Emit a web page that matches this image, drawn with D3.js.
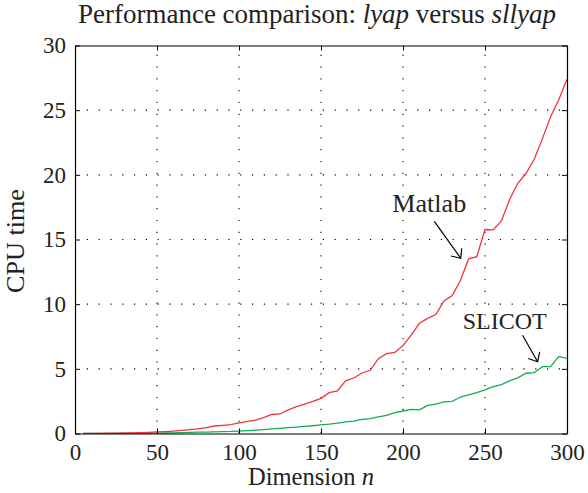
<!DOCTYPE html>
<html>
<head>
<meta charset="utf-8">
<script src="https://cdn.jsdelivr.net/npm/d3@7"></script>
<style>
  html, body { margin: 0; padding: 0; background: #fff; }
  svg { display: block; }
</style>
</head>
<body>
<svg id="chart" width="588" height="493"></svg>
<script>
// ---- data ----
const dimensions = d3.range(5, 301, 5);
const matlab = [
  0.005, 0.01, 0.015, 0.02, 0.03, 0.04, 0.05, 0.07, 0.09, 0.12,
  0.15, 0.19, 0.24, 0.30, 0.35, 0.45, 0.58, 0.63, 0.69, 0.82,
  0.93, 1.04, 1.22, 1.47, 1.51, 1.82, 2.08, 2.28, 2.49, 2.72,
  3.16, 3.30, 4.07, 4.29, 4.68, 4.89, 5.78, 6.17, 6.27, 6.80,
  7.60, 8.52, 8.90, 9.20, 10.25, 10.67, 11.83, 13.50, 13.67, 15.77,
  15.74, 16.43, 18.10, 19.35, 20.10, 21.20, 22.80, 24.50, 25.80, 27.40
];
const slicot = [
  0.002, 0.004, 0.006, 0.008, 0.01, 0.012, 0.015, 0.018, 0.02, 0.03,
  0.04, 0.05, 0.07, 0.08, 0.10, 0.11, 0.13, 0.15, 0.16, 0.19,
  0.22, 0.26, 0.30, 0.35, 0.40, 0.45, 0.50, 0.55, 0.60, 0.66,
  0.72, 0.80, 0.90, 0.95, 1.10, 1.15, 1.28, 1.40, 1.62, 1.74,
  1.87, 1.83, 2.17, 2.27, 2.44, 2.49, 2.82, 2.99, 3.16, 3.38,
  3.62, 3.78, 4.07, 4.30, 4.66, 4.70, 5.17, 5.17, 5.96, 5.81
];
const xTicks = [0, 50, 100, 150, 200, 250, 300];
const yTicks = [0, 5, 10, 15, 20, 25, 30];
const xDomain = [0, 300];
const yDomain = [0, 30];
// annotation text anchor and arrow (start -> tip) in data units
const annotations = [
  { label: "Matlab", tx: 216, ty: 17.1, x0: 219.1, y0: 16.4, x1: 235.2, y1: 13.55 },
  { label: "SLICOT", tx: 262, ty: 8.05, x0: 272.9, y0: 7.6, x1: 282.1, y1: 5.55 }
];

// ---- layout ----
const FONT = '"Liberation Serif", "Times New Roman", serif';
const svg = d3.select("#chart");
const L = 75, R = 567, T = 45.5, B = 433.5;
const x = d3.scaleLinear().domain(xDomain).range([L, R]);
const y = d3.scaleLinear().domain(yDomain).range([B, T]);

function serif(sel, size) {
  return sel.style("font-family", FONT).style("font-size", size + "px").style("fill", "#222");
}
function fitWidth(sel, target) {
  const fsz = parseFloat(sel.style("font-size"));
  const w = sel.node().getComputedTextLength();
  if (w > 0) sel.style("font-size", (fsz * target / w).toFixed(2) + "px");
}

// grid
const grid = svg.append("g").attr("stroke", "#000").attr("stroke-width", 1.1)
  .attr("stroke-dasharray", "1.2,10.6").attr("fill", "none");
xTicks.slice(1, -1).forEach(t => {
  grid.append("line").attr("x1", x(t)).attr("x2", x(t)).attr("y1", B).attr("y2", T);
});
yTicks.slice(1, -1).forEach(t => {
  grid.append("line").attr("x1", L).attr("x2", R).attr("y1", y(t)).attr("y2", y(t));
});

// lines
const pts = vals => vals.map((v, i) => [dimensions[i], v]);
const line = d3.line().x(d => x(d[0])).y(d => y(d[1]));
svg.append("path").datum(pts(slicot)).attr("d", line)
  .attr("fill", "none").attr("stroke", "#10ad55").attr("stroke-width", 1.3);
svg.append("path").datum(pts(matlab)).attr("d", line)
  .attr("fill", "none").attr("stroke", "#f0333a").attr("stroke-width", 1.3);

// axes with inward ticks on all sides
const fs = 23;
const axB = d3.axisBottom(x).tickValues(xTicks).tickSize(-5).tickPadding(10).tickSizeOuter(0);
const axT = d3.axisTop(x).tickValues(xTicks).tickSize(-5).tickFormat("").tickSizeOuter(0);
const axLft = d3.axisLeft(y).tickValues(yTicks).tickSize(-5).tickPadding(9).tickSizeOuter(0);
const axRgt = d3.axisRight(y).tickValues(yTicks).tickSize(-5).tickFormat("").tickSizeOuter(0);
function style(g) {
  g.attr("font-family", null).attr("font-size", null);
  g.select(".domain").attr("stroke", "#000").attr("stroke-width", 1.2);
  g.selectAll(".tick line").attr("stroke", "#000").attr("stroke-width", 1);
  serif(g.selectAll("text"), fs);
}
svg.append("g").attr("transform", `translate(0,${B})`).call(axB).call(style);
svg.append("g").attr("transform", `translate(0,${T})`).call(axT).call(style);
svg.append("g").attr("transform", `translate(${L},0)`).call(axLft).call(style);
svg.append("g").attr("transform", `translate(${R},0)`).call(axRgt).call(style);

// title
const title = serif(svg.append("text"), 22).attr("x", 317).attr("y", 23).attr("text-anchor", "middle");
title.append("tspan").text("Performance comparison: ");
title.append("tspan").style("font-style", "italic").text("lyap");
title.append("tspan").text(" versus ");
title.append("tspan").style("font-style", "italic").text("sllyap");
fitWidth(title, 478);

// axis labels
const xl = serif(svg.append("text"), 23).attr("x", 311).attr("y", 485).attr("text-anchor", "middle");
xl.append("tspan").text("Dimension ");
xl.append("tspan").style("font-style", "italic").text("n");
fitWidth(xl, 126);
const yl = serif(svg.append("text"), 23).attr("transform", "translate(23.5,241) rotate(-90)")
  .attr("text-anchor", "middle").text("CPU time");
fitWidth(yl, 104);

// annotations
annotations.forEach(a => {
  const t = serif(svg.append("text"), 23).attr("x", x(a.tx)).attr("y", y(a.ty))
    .attr("text-anchor", "middle").text(a.label);
  fitWidth(t, a.label === "Matlab" ? 74 : 84);
  const px0 = x(a.x0), py0 = y(a.y0), px1 = x(a.x1), py1 = y(a.y1);
  const ang = Math.atan2(py0 - py1, px0 - px1);
  const hl = 10, ha = 0.72;
  const g = svg.append("g").attr("stroke", "#000").attr("stroke-width", 1.2).attr("fill", "none");
  g.append("line").attr("x1", px0).attr("y1", py0).attr("x2", px1).attr("y2", py1);
  g.append("path").attr("d",
    `M${px1 + hl * Math.cos(ang + ha)},${py1 + hl * Math.sin(ang + ha)} L${px1},${py1} L${px1 + hl * Math.cos(ang - ha)},${py1 + hl * Math.sin(ang - ha)}`);
});
</script>
</body>
</html>
